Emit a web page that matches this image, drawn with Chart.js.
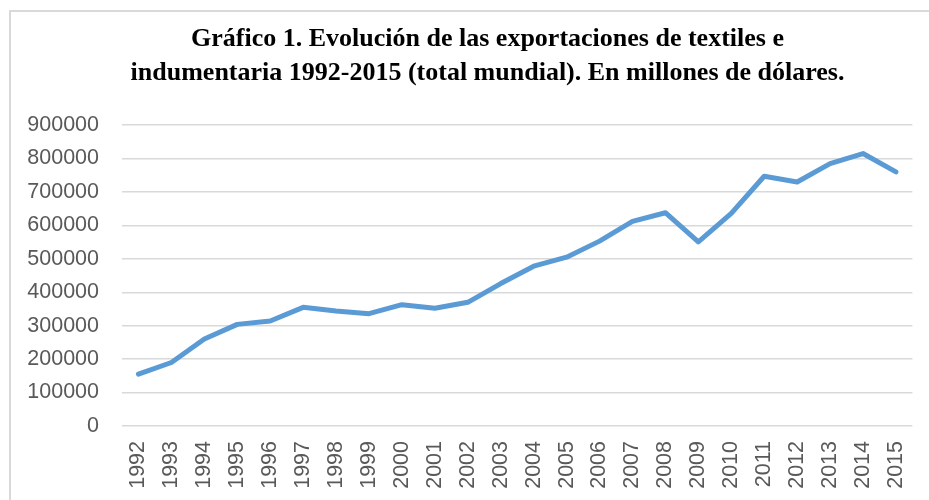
<!DOCTYPE html>
<html>
<head>
<meta charset="utf-8">
<script src="https://cdn.jsdelivr.net/npm/chart.js@4"></script>
<style>
  html, body { margin: 0; padding: 0; background: #fff; }
  #wrap { position: relative; width: 929px; height: 500px; overflow: hidden; }
  #frame { position: absolute; left: 9px; top: 10px; width: 1000px; height: 1000px; border: 2px solid #d9d9d9; }
  canvas { position: absolute; left: 0; top: 0; }
</style>
</head>
<body>
<div id="wrap">
  <div id="frame"></div>
  <canvas id="chart" width="929" height="500"></canvas>
</div>
<script>
const years = ["1992", "1993", "1994", "1995", "1996", "1997", "1998", "1999", "2000", "2001", "2002", "2003",
  "2004", "2005", "2006", "2007", "2008", "2009", "2010", "2011", "2012", "2013", "2014", "2015"];
const exports = [155000, 190000, 260000, 304000, 314000, 355000, 344000, 336000, 363000, 352000, 370000, 426000,
  478000, 505000, 553000, 612000, 638000, 551000, 636000, 747000, 730000, 785000, 815000, 760000];
const titleLines = [
  "Gráfico 1. Evolución de las exportaciones de textiles e",
  "indumentaria 1992-2015 (total mundial). En millones de dólares."
];

const tickFont = { family: "Liberation Sans", size: 21.5 };

// the title sits a bit right of the canvas centre in the original
const shiftTitle = {
  id: "shiftTitle",
  afterLayout(chart) {
    if (chart.titleBlock) chart.titleBlock.left += 59;
  },
};

new Chart(document.getElementById("chart").getContext("2d"), {
  type: "line",
  data: {
    labels: years,
    datasets: [{
      data: exports,
      borderColor: "#5b9bd5",
      borderWidth: 5,
      pointRadius: 0,
      tension: 0,
      borderCapStyle: "round",
      borderJoinStyle: "round",
    }],
  },
  options: {
    responsive: false,
    animation: false,
    layout: { padding: { left: 0, right: 13, top: 0, bottom: 0 } },
    scales: {
      x: {
        offset: true,
        grid: { display: false },
        border: { display: false },
        ticks: { color: "#595959", font: tickFont, minRotation: 90, maxRotation: 90, padding: 7, autoSkip: false },
        afterFit: (scale) => { scale.height = 74; },
      },
      y: {
        min: 0,
        max: 900000,
        grid: { color: "#d9d9d9", lineWidth: 1.5, drawTicks: false },
        border: { display: false },
        ticks: {
          stepSize: 100000, color: "#595959", font: tickFont, padding: 23,
          callback: (value) => String(value),
        },
        afterFit: (scale) => { scale.width = 122; },
      },
    },
    plugins: {
      legend: { display: false },
      tooltip: { enabled: false },
      title: {
        display: true,
        text: titleLines,
        color: "#000",
        font: { family: "Liberation Serif", size: 26, weight: "bold", lineHeight: 1.31 },
        padding: { top: 22, bottom: 35 },
      },
    },
  },
  plugins: [shiftTitle],
});
</script>
</body>
</html>
